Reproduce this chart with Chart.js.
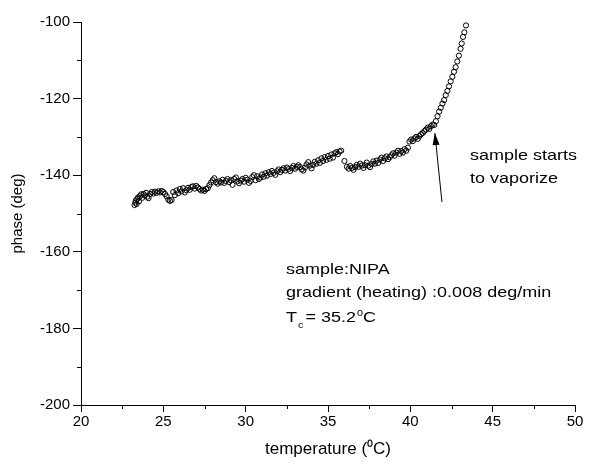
<!DOCTYPE html>
<html>
<head>
<meta charset="utf-8">
<script src="https://cdn.jsdelivr.net/npm/chart.js@4"></script>
<style>
  html, body { margin: 0; padding: 0; background: #fff; }
  #wrap { width: 610px; height: 466px; }
</style>
</head>
<body>
<div id="wrap"><canvas id="grafico" width="610" height="466"></canvas></div>
<script>
// temperatura (°C) y fase (deg)
const temps = [
  23.25, 23.30, 23.33, 23.38, 23.42, 23.47, 23.52, 23.58, 23.65, 23.72,
  23.80, 23.88, 23.95, 24.03, 24.10, 24.20, 24.30, 24.40, 24.50, 24.60,
  24.70, 24.80, 24.90, 25.00, 25.10, 25.20, 25.30, 25.40, 25.50, 25.60,
  25.70, 25.80, 25.90, 26.00, 26.10, 26.20, 26.30, 26.40, 26.50, 26.60,
  26.70, 26.80, 26.90, 27.00, 27.10, 27.20, 27.30, 27.40, 27.50, 27.60,
  27.70, 27.80, 27.90, 28.00, 28.10, 28.20, 28.30, 28.40, 28.50, 28.60,
  28.70, 28.80, 28.90, 29.00, 29.10, 29.20, 29.30, 29.40, 29.50, 29.60,
  29.70, 29.80, 29.90, 30.00, 30.10, 30.20, 30.30, 30.40, 30.50, 30.60,
  30.70, 30.80, 30.90, 31.00, 31.10, 31.20, 31.30, 31.40, 31.50, 31.60,
  31.70, 31.80, 31.90, 32.00, 32.10, 32.20, 32.30, 32.40, 32.50, 32.60,
  32.70, 32.80, 32.90, 33.00, 33.10, 33.20, 33.30, 33.40, 33.50, 33.60,
  33.70, 33.80, 33.90, 34.00, 34.10, 34.20, 34.30, 34.40, 34.50, 34.60,
  34.70, 34.80, 34.90, 35.00, 35.10, 35.20, 35.30, 35.40, 35.50, 35.60,
  35.70, 35.80, 36.00, 36.15, 36.25, 36.35, 36.45, 36.55, 36.65, 36.75,
  36.85, 36.95, 37.05, 37.15, 37.25, 37.35, 37.45, 37.55, 37.65, 37.75,
  37.85, 37.95, 38.05, 38.15, 38.25, 38.35, 38.45, 38.55, 38.65, 38.75,
  38.85, 38.95, 39.05, 39.15, 39.25, 39.35, 39.45, 39.55, 39.65, 39.75,
  39.85, 39.95, 40.05, 40.15, 40.25, 40.35, 40.45, 40.55, 40.65, 40.75,
  40.85, 40.95, 41.05, 41.15, 41.25, 41.35, 41.45, 41.55, 41.65, 41.75,
  41.85, 41.95, 42.05, 42.15, 42.25, 42.35, 42.45, 42.55, 42.65, 42.75,
  42.85, 42.95, 43.05, 43.12, 43.20, 43.28, 43.38
];
const phases = [
  -147.8, -147.2, -146.6, -147.5, -146.2, -145.8, -146.8, -145.5, -145.0, -145.9,
  -144.9, -145.3, -144.6, -145.6, -146.0, -144.9, -144.4, -144.8, -144.3, -144.6,
  -144.2, -144.5, -144.1, -144.4, -144.9, -145.5, -146.4, -146.7, -146.5, -144.4,
  -145.2, -144.0, -144.7, -143.6, -144.2, -143.4, -144.5, -143.9, -143.3, -143.8,
  -143.1, -142.9, -143.5, -142.8, -143.2, -143.6, -144.0, -143.8, -144.1, -143.6,
  -143.4, -142.6, -141.9, -141.3, -140.8, -141.8, -142.2, -141.6, -141.9, -141.2,
  -142.0, -141.5, -141.0, -141.8, -141.3, -142.5, -141.0, -140.6, -141.6, -142.1,
  -141.4, -141.0, -141.7, -140.7, -141.2, -142.0, -141.5, -140.5, -140.0, -141.3,
  -140.3, -141.0, -140.6, -139.8, -140.4, -139.5, -140.1, -139.2, -139.7, -138.9,
  -139.4, -139.9, -139.0, -138.5, -139.2, -138.6, -138.2, -138.8, -138.0, -138.4,
  -138.9, -138.1, -137.6, -138.3, -137.8, -137.4, -137.9, -138.5, -138.8, -138.0,
  -137.2, -136.6, -137.5, -138.2, -137.3, -136.5, -137.0, -136.1, -136.8, -135.6,
  -136.3, -135.3, -136.0, -135.0, -135.7, -134.6, -135.4, -134.3, -134.0, -134.5,
  -133.8, -133.6, -136.3, -137.8, -138.3, -137.6, -138.1, -138.6, -137.9, -137.3,
  -137.8, -137.0, -137.5, -138.1, -137.4, -136.7, -137.5, -137.9, -137.1, -136.4,
  -137.0, -136.2, -136.8, -135.9, -135.4, -136.3, -135.6, -135.1, -135.8, -135.3,
  -134.8, -134.3, -134.9, -134.1, -133.6, -134.4, -133.7, -134.1, -133.2, -133.6,
  -132.8, -131.2, -130.7, -131.1, -130.4, -130.0, -130.5, -129.8, -129.3, -129.0,
  -128.5, -128.1, -127.6, -127.9, -127.2, -126.8, -126.9, -125.9, -124.6, -123.4,
  -122.4, -121.3, -120.4, -119.1, -118.0, -116.8, -115.5, -114.3, -113.0, -111.8,
  -110.3, -108.8, -107.0, -105.6, -103.9, -102.7, -100.9
];

// textos y flecha, en coordenadas de datos
const notaVapor = ["sample starts", "to vaporize"];
const notaVaporPos = [[43.62, -136.0], [43.62, -142.0]];
const flecha = [[41.92, -147.0], [41.49, -129.0]];
const notaMuestra = ["sample:NIPA", "gradient (heating) :0.008 deg/min"];
const notaMuestraPos = [[32.45, -165.8], [32.45, -171.8], [32.45, -178.3]];

const fuente = "'Liberation Sans', Arial, sans-serif";

const puntos = temps.map((t, i) => ({ x: t, y: phases[i] }));

// ticks menores y anotaciones
const extras = {
  id: "extras",
  afterDraw(chart) {
    const ctx = chart.ctx;
    const xs = chart.scales.x;
    const ys = chart.scales.y;
    ctx.save();
    ctx.strokeStyle = "#000";
    ctx.lineWidth = 1;
    ctx.beginPath();
    for (let v = 22.5; v < 50; v += 5) {
      const px = Math.round(xs.getPixelForValue(v)) + 0.5;
      ctx.moveTo(px, ys.bottom);
      ctx.lineTo(px, ys.bottom + 4);
    }
    for (let v = -190; v < -100; v += 20) {
      const py = Math.round(ys.getPixelForValue(v)) + 0.5;
      ctx.moveTo(xs.left, py);
      ctx.lineTo(xs.left - 4, py);
    }
    ctx.stroke();

    // flecha
    const x1 = xs.getPixelForValue(flecha[0][0]);
    const y1 = ys.getPixelForValue(flecha[0][1]);
    const x2 = xs.getPixelForValue(flecha[1][0]);
    const y2 = ys.getPixelForValue(flecha[1][1]);
    ctx.beginPath();
    ctx.moveTo(x1, y1);
    ctx.lineTo(x2, y2);
    ctx.stroke();
    const ang = Math.atan2(y2 - y1, x2 - x1);
    const largo = 12, ancho = 3.5;
    ctx.fillStyle = "#000";
    ctx.beginPath();
    ctx.moveTo(x2, y2);
    ctx.lineTo(x2 - largo * Math.cos(ang) + ancho * Math.sin(ang), y2 - largo * Math.sin(ang) - ancho * Math.cos(ang));
    ctx.lineTo(x2 - largo * Math.cos(ang) - ancho * Math.sin(ang), y2 - largo * Math.sin(ang) + ancho * Math.cos(ang));
    ctx.closePath();
    ctx.fill();

    // textos (algo estirados como en el original)
    const escala = 1.2;
    ctx.font = "15px " + fuente;
    ctx.textBaseline = "alphabetic";
    ctx.textAlign = "left";
    const texto = (s, x, y, f) => {
      ctx.save();
      ctx.translate(x, y);
      ctx.scale(escala, 1);
      if (f) ctx.font = f;
      ctx.fillText(s, 0, 0);
      const w = ctx.measureText(s).width * escala;
      ctx.restore();
      return w;
    };
    notaVapor.forEach((s, i) => {
      texto(s, xs.getPixelForValue(notaVaporPos[i][0]), ys.getPixelForValue(notaVaporPos[i][1]));
    });
    notaMuestra.forEach((s, i) => {
      texto(s, xs.getPixelForValue(notaMuestraPos[i][0]), ys.getPixelForValue(notaMuestraPos[i][1]));
    });
    // T_c = 35.2 ^0 C
    let tx = xs.getPixelForValue(notaMuestraPos[2][0]);
    const ty = ys.getPixelForValue(notaMuestraPos[2][1]);
    tx += texto("T", tx, ty);
    tx += texto("c", tx + 1, ty + 6, "9px " + fuente) + 3;
    tx += texto("= 35.2", tx, ty);
    tx += texto("0", tx + 1, ty - 6, "9px " + fuente) + 1;
    texto("C", tx, ty);
    ctx.restore();
  }
};

new Chart(document.getElementById("grafico"), {
  type: "scatter",
  data: {
    datasets: [{
      data: puntos,
      pointStyle: "circle",
      pointRadius: 2.6,
      pointBorderWidth: 1,
      pointBorderColor: "#000",
      pointBackgroundColor: "rgba(0,0,0,0)",
      showLine: false
    }]
  },
  options: {
    responsive: false,
    animation: false,
    events: [],
    layout: { padding: { top: 22, right: 35, left: 0, bottom: 0 } },
    plugins: { legend: { display: false }, tooltip: { enabled: false } },
    scales: {
      x: {
        type: "linear",
        min: 20,
        max: 50,
        afterFit: (s) => { s.height = 61; },
        ticks: { stepSize: 5, color: "#000", padding: 1, font: { family: fuente, size: 15 } },
        grid: { drawOnChartArea: false, tickLength: 7, tickColor: "#000" },
        border: { color: "#000", width: 1 },
        title: { display: true, text: "temperature (\u2070C)", color: "#000", font: { family: fuente, size: 17 }, padding: { top: 0, bottom: 6 } }
      },
      y: {
        type: "linear",
        min: -200,
        max: -100,
        afterFit: (s) => { s.width = 81; },
        ticks: { stepSize: 20, color: "#000", padding: 3, font: { family: fuente, size: 15 } },
        grid: { drawOnChartArea: false, tickLength: 8, tickColor: "#000" },
        border: { color: "#000", width: 1 },
        title: { display: true, text: "phase (deg)", color: "#000", font: { family: fuente, size: 15 }, padding: { top: 9, bottom: 0 } }
      }
    }
  },
  plugins: [extras]
});
</script>
</body>
</html>
